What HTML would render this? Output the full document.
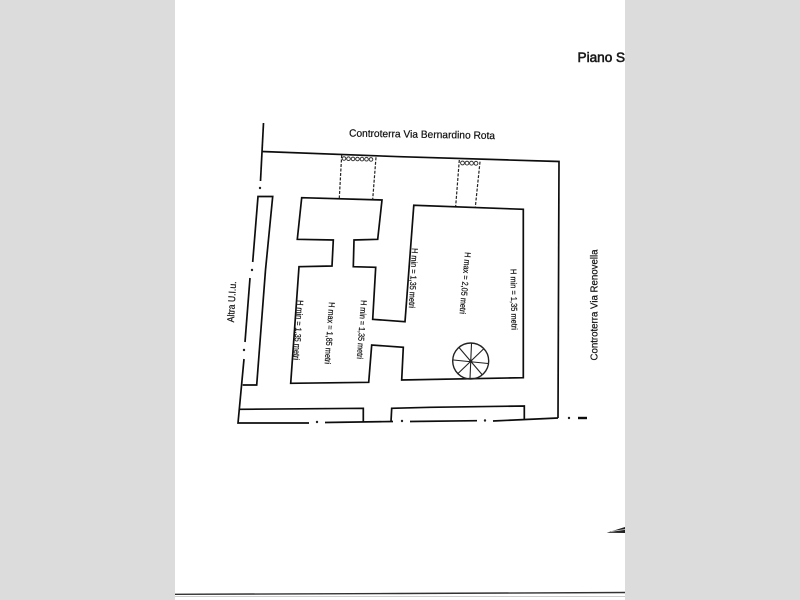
<!DOCTYPE html>
<html><head><meta charset="utf-8"><style>
html,body{margin:0;padding:0;width:800px;height:600px;overflow:hidden;background:#dcdcdc}
svg{position:absolute;left:0;top:0}
text{font-family:"Liberation Sans",sans-serif;fill:#111}
.m{font-size:8.6px;fill:#111;stroke:#111;stroke-width:.2}
</style></head><body>
<svg width="800" height="600" viewBox="0 0 800 600">
<defs><filter id="b" x="0" y="0" width="100%" height="100%"><feGaussianBlur stdDeviation="0.35"/></filter></defs>
<rect x="175" y="0" width="450" height="600" fill="#fff"/>
<g filter="url(#b)">
<g fill="none" stroke="#111" stroke-width="1.7" stroke-linejoin="miter">
<path d="M263.5 123L260.5 181"/>
<path d="M262 151.5L400 156.7L559 161.5L558 418"/>
<path d="M250 278L245 342"/>
<path d="M244 359L238 423H309"/>
<path d="M325 422.5L393 421.5"/>
<path d="M410 421.5L477 420.7"/>
<path d="M493 421L558 418"/>
<path d="M578 418H587" stroke-width="2.4"/>
<path d="M252.7 262L258 196.5H272.7L265.5 270L256.7 385H242.7"/>
<path d="M240 409.3L363.3 408.3V421.7"/>
<path d="M391 421.7L391.7 408.3L430 407.3L524.3 406V420"/>
<path d="M301.7 197.7L382 200L377.7 239.3L354 240L353.3 266.7L375.7 267.3L372.7 319.3L405 321.7L413.8 205.3L523.3 209.3V377.7L401.7 380L403.3 347.3L371.7 345L368.7 382.3L290.7 383.3L299 266.7L332 266L333.3 240L297.3 239.3Z"/>
</g>
<g fill="#222">
<circle cx="260" cy="188" r="1.2"/><circle cx="252" cy="270" r="1.2"/><circle cx="244" cy="350" r="1.2"/>
<circle cx="317" cy="422" r="1.2"/><circle cx="402" cy="421" r="1.2"/><circle cx="485" cy="420.5" r="1.2"/><circle cx="569" cy="418" r="1.2"/>
</g>
<g fill="none" stroke="#222" stroke-width="1.2" stroke-dasharray="3 1.5">
<path d="M341.7 155L339.3 198M376 157.3L372.7 199.3M459.3 160L455.7 206M480 161.7L475.3 207.3"/>
</g>
<g fill="none" stroke="#333" stroke-width="1">
<circle cx="344" cy="158.5" r="1.8"/><circle cx="348.5" cy="158.7" r="1.8"/><circle cx="353" cy="158.9" r="1.8"/><circle cx="357.5" cy="159" r="1.8"/><circle cx="362" cy="159.1" r="1.8"/><circle cx="366.5" cy="159.2" r="1.8"/><circle cx="371" cy="159.4" r="1.8"/>
<circle cx="462.5" cy="163" r="1.9"/><circle cx="467" cy="163.1" r="1.9"/><circle cx="471.5" cy="163.2" r="1.9"/><circle cx="476" cy="163.3" r="1.9"/>
</g>
<g fill="none" stroke="#222" stroke-width="1.1">
<circle cx="470.7" cy="361" r="18" stroke-width="1.4"/>
<path d="M471.5 343.5L470 378.5M459 347.5L482 374.5M453.5 360L488 363.5M457.5 374L484 348.5"/>
</g>
<circle cx="470.7" cy="361" r="1.5" fill="#222"/>
<path d="M606.7 532.7L625 527V533Z" fill="#222"/>
<path d="M625 529.5L611 531.5" stroke="#ddd" stroke-width=".8"/>
<path d="M175 594.3L400 593.5L625 592.5" stroke="#333" stroke-width="1.4" fill="none"/>
<path d="M175 596.5H625" stroke="#999" stroke-width="1" fill="none"/>
<text x="349" y="136.5" font-size="10.4" transform="rotate(1 349 136.5)" textLength="146" lengthAdjust="spacingAndGlyphs" stroke="#111" stroke-width=".2">Controterra Via Bernardino Rota</text>
<text font-size="10.4" transform="translate(597.5 360.5) rotate(-90)" textLength="111" lengthAdjust="spacingAndGlyphs" stroke="#111" stroke-width=".2">Controterra Via Renovella</text>
<text font-size="10" transform="translate(234 322.5) rotate(-87)" textLength="41" lengthAdjust="spacingAndGlyphs" stroke="#111" stroke-width=".2">Altra U.I.u.</text>
<text class="m" textLength="60" lengthAdjust="spacingAndGlyphs" transform="translate(297.5 300) rotate(94)">H min = 1,35 metri</text>
<text class="m" textLength="62" lengthAdjust="spacingAndGlyphs" transform="translate(329 302) rotate(94)">H max = 1,85 metri</text>
<text class="m" textLength="59" lengthAdjust="spacingAndGlyphs" transform="translate(361 300) rotate(94)">H min = 1,35 metri</text>
<text class="m" textLength="60" lengthAdjust="spacingAndGlyphs" transform="translate(412 248) rotate(93)">H min = 1,35 metri</text>
<text class="m" textLength="62" lengthAdjust="spacingAndGlyphs" transform="translate(465 252) rotate(95)">H max = 2,05 metri</text>
<text class="m" textLength="61" lengthAdjust="spacingAndGlyphs" transform="translate(510.5 269) rotate(89)">H min = 1,35 metri</text>
</g>
<svg x="175" y="0" width="450" height="100"><text x="402.5" y="62" font-size="13.6" fill="#222" stroke="#222" stroke-width=".6">Piano S</text></svg>
</svg>
</body></html>
